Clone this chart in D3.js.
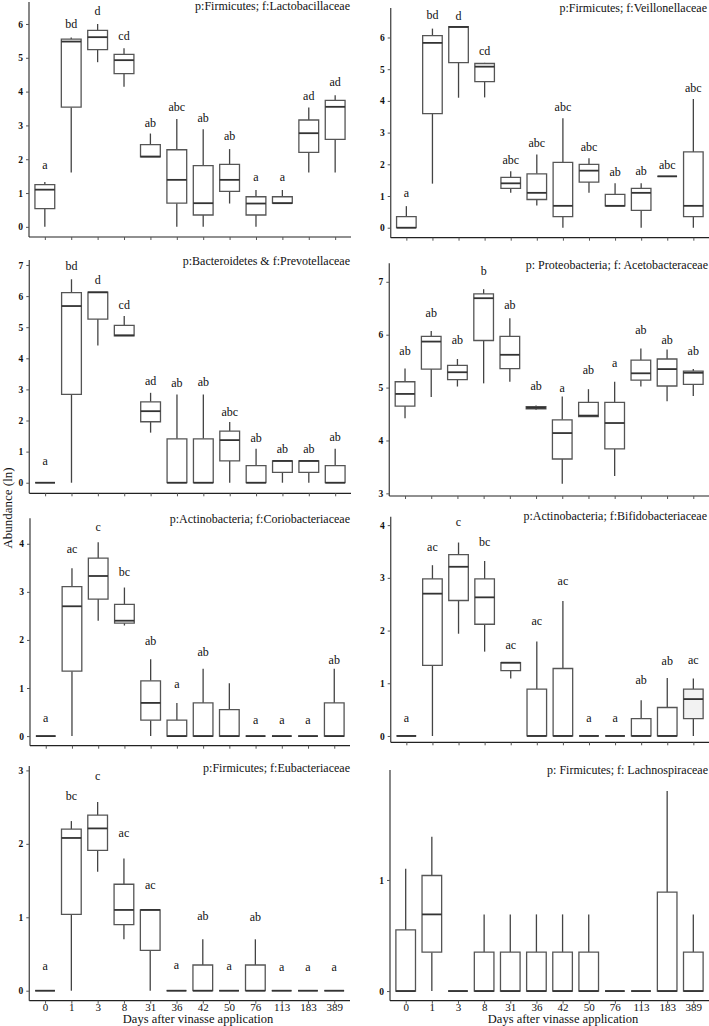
<!DOCTYPE html>
<html><head><meta charset="utf-8">
<script src="https://cdn.jsdelivr.net/npm/d3@7/dist/d3.min.js"></script>
<style>body{margin:0;background:#fff}svg{display:block}text{font-family:"Liberation Serif","Times New Roman",serif;fill:#111}</style>
</head><body>
<script>
// ---- data ----
const days = ["0","1","3","8","31","36","42","50","76","113","183","389"];

// each box: [low whisker, q1, median, q3, high whisker]
const lactoBoxes = [[0,0.54,1.1,1.25,1.33],[1.61,3.54,5.48,5.55,5.6],[4.87,5.24,5.61,5.81,6.0],[4.14,4.53,4.93,5.1,5.28],[2.07,2.07,2.08,2.43,2.76],[0,0.7,1.39,2.28,3.19],[0,0.35,0.7,1.81,2.89],[0.69,1.05,1.39,1.85,2.3],[0,0.35,0.69,0.89,1.09],[0.7,0.7,0.7,0.89,1.09],[1.61,2.2,2.77,3.16,3.53],[1.61,2.59,3.55,3.74,3.89]];
const lactoLetters = ["a","bd","d","cd","ab","abc","ab","ab","a","a","ad","ad"];
const lactoLetterY = [1.83,6.0,6.37,5.65,3.08,3.55,3.2,2.67,1.48,1.46,3.88,4.27];

const veilBoxes = [[0,0,0,0.35,0.68],[1.39,3.6,5.83,6.06,6.28],[4.1,5.21,6.33,6.34,6.34],[4.11,4.61,5.08,5.18,5.2],[1.1,1.24,1.4,1.59,1.78],[0.7,0.89,1.1,1.7,2.31],[0,0.35,0.69,2.06,3.45],[1.1,1.44,1.8,2.0,2.19],[0.69,0.69,0.69,1.05,1.4],[0,0.55,1.1,1.24,1.4],[1.62,1.62,1.62,1.62,1.62],[0,0.35,0.69,2.39,4.06]];
const veilLetters = ["a","bd","d","cd","abc","abc","abc","abc","ab","ab","abc","abc"];
const veilLetterY = [1.08,6.7,6.67,5.57,2.14,2.68,3.79,2.55,1.74,1.77,1.98,4.41];

const prevoBoxes = [[0,0,0,0,0],[0,2.84,5.68,6.11,6.54],[4.41,5.26,6.12,6.13,6.13],[4.72,4.72,4.74,5.06,5.36],[1.61,1.96,2.3,2.6,2.89],[0,0,0,1.41,2.84],[0,0,0,1.41,2.84],[0,0.7,1.37,1.66,1.95],[0,0,0,0.55,1.09],[0,0.33,0.7,0.7,0.7],[0,0.33,0.7,0.7,0.7],[0,0,0,0.55,1.09]];
const prevoLetters = ["a","bd","d","cd","ad","ab","ab","abc","ab","ab","ab","ab"];
const prevoLetterY = [0.7,6.97,6.52,5.71,3.27,3.19,3.22,2.28,1.43,1.08,1.08,1.46];

const acetoBoxes = [[4.42,4.65,4.88,5.11,5.36],[4.82,5.35,5.87,5.97,6.07],[5.02,5.15,5.29,5.42,5.54],[5.08,5.89,6.69,6.77,6.86],[5.11,5.36,5.62,5.97,6.31],[4.58,4.6,4.62,4.64,4.66],[3.18,3.65,4.14,4.39,4.83],[4.45,4.45,4.47,4.72,4.97],[3.33,3.84,4.33,4.72,5.11],[5.02,5.14,5.27,5.52,5.74],[4.74,5.03,5.35,5.54,5.72],[4.84,5.06,5.28,5.31,5.35]];
const acetoLetters = ["ab","ab","ab","b","ab","ab","a","ab","a","ab","ab","ab"];
const acetoLetterY = [5.68,6.4,5.89,7.21,6.56,5.03,4.99,5.32,5.47,6.09,5.9,5.68];

const corioBoxes = [[0,0,0,0,0],[0,1.35,2.7,3.11,3.49],[2.4,2.85,3.33,3.7,4.03],[2.3,2.35,2.4,2.74,3.09],[0,0.33,0.69,1.15,1.6],[0,0,0,0.33,0.69],[0,0,0,0.69,1.4],[0,0,0,0.55,1.1],[0,0,0,0,0],[0,0,0,0,0],[0,0,0,0,0],[0,0,0,0.69,1.4]];
const corioLetters = ["a","ac","c","bc","ab","a","ab","","a","a","a","ab"];
const corioLetterY = [0.37,3.89,4.34,3.41,1.98,1.08,1.74,0,0.33,0.33,0.33,1.58];

const bifidoBoxes = [[0,0,0,0,0],[0,1.34,2.7,2.98,3.24],[1.94,2.57,3.21,3.44,3.67],[1.6,2.12,2.63,2.98,3.32],[1.09,1.24,1.39,1.39,1.39],[0,0,0,0.89,1.79],[0,0,0,1.28,2.56],[0,0,0,0,0],[0,0,0,0,0],[0,0,0,0.33,0.68],[0,0,0,0.54,1.1],[0,0.33,0.7,0.89,1.09]];
const bifidoLetters = ["a","ac","c","bc","ac","ac","ac","a","a","ab","ab","ac"];
const bifidoLetterY = [0.33,3.58,4.05,3.67,1.73,2.17,2.94,0.33,0.33,1.06,1.42,1.44];

const eubacBoxes = [[0,0,0,0,0],[0,1.04,2.08,2.2,2.31],[1.62,1.91,2.21,2.39,2.57],[0.7,0.9,1.1,1.45,1.8],[0,0.55,1.1,1.1,1.1],[0,0,0,0,0],[0,0,0,0.35,0.7],[0,0,0,0,0],[0,0,0,0.35,0.7],[0,0,0,0,0],[0,0,0,0,0],[0,0,0,0,0]];
const eubacLetters = ["a","bc","c","ac","ac","a","ab","a","ab","a","a","a"];
const eubacLetterY = [0.34,2.65,2.92,2.14,1.44,0.35,1.02,0.33,1.0,0.32,0.32,0.32];

const lachnoBoxes = [[0,0,0,0.55,1.1],[0,0.35,0.69,1.04,1.39],[0,0,0,0,0],[0,0,0,0.35,0.69],[0,0,0,0.35,0.69],[0,0,0,0.35,0.69],[0,0,0,0.35,0.69],[0,0,0,0.35,0.69],[0,0,0,0,0],[0,0,0,0,0],[0,0,0,0.89,1.8],[0,0,0,0.35,0.69]];
const lachnoLetters = ["","","","","","","","","","","",""];
const lachnoLetterY = [0,0,0,0,0,0,0,0,0,0,0,0];

const titles = ["p:Firmicutes; f:Lactobacillaceae","p:Firmicutes; f:Veillonellaceae","p:Bacteroidetes & f:Prevotellaceae","p: Proteobacteria; f: Acetobacteraceae","p:Actinobacteria; f:Coriobacteriaceae","p:Actinobacteria; f:Bifidobacteriaceae","p:Firmicutes; f:Eubacteriaceae","p: Firmicutes; f: Lachnospiraceae"];
const yTicks = [[0,1,2,3,4,5,6],[0,1,2,3,4,5,6],[0,1,2,3,4,5,6,7],[3,4,5,6,7],[0,1,2,3,4],[0,1,2,3,4],[0,1,2,3],[0,1]];

// ---- layout ----
const panels = [
 {boxes:lactoBoxes, letters:lactoLetters, ly:lactoLetterY, L:29, R:351, T:2, B:237, dom:[-0.3,6.65], tb:10, tr:350},
 {boxes:veilBoxes, letters:veilLetters, ly:veilLetterY, L:390.7, R:709, T:8, B:237.7, dom:[-0.315,6.93], tb:11.5, tr:707},
 {boxes:prevoBoxes, letters:prevoLetters, ly:prevoLetterY, L:29.3, R:351, T:260, B:493.3, dom:[-0.34,7.16], tb:265, tr:350},
 {boxes:acetoBoxes, letters:acetoLetters, ly:acetoLetterY, L:389.3, R:709, T:263.3, B:496, dom:[2.95,7.35], tb:269, tr:708},
 {boxes:corioBoxes, letters:corioLetters, ly:corioLetterY, L:30, R:350, T:518.3, B:745.7, dom:[-0.2,4.53], tb:523, tr:350},
 {boxes:bifidoBoxes, letters:bifidoLetters, ly:bifidoLetterY, L:390.7, R:709, T:516.7, B:742.3, dom:[-0.12,4.16], tb:520, tr:707, fillLast:true},
 {boxes:eubacBoxes, letters:eubacLetters, ly:eubacLetterY, L:29.3, R:350, T:766, B:1000.7, dom:[-0.136,3.06], tb:772, tr:350, xlab:198},
 {boxes:lachnoBoxes, letters:lachnoLetters, ly:lachnoLetterY, L:390, R:709, T:770, B:1000.7, dom:[-0.087,1.99], tb:774, tr:708, xlab:563}
];

const svg = d3.select("body").append("svg").attr("width",709).attr("height",1026);

panels.forEach((p,i)=>{
  const g = svg.append("g");
  // ggplot-like discrete expansion of 0.6 units each side
  const step = (p.R - p.L) / (days.length + 0.2);
  const x = d3.scalePoint().domain(days).range([p.L + 0.6*step, p.R - 0.6*step]);
  const y = d3.scaleLinear().domain(p.dom).range([p.B, p.T]);
  const bw = step*0.75;

  // axes
  const ya = g.append("g").attr("transform",`translate(${p.L},0)`)
    .call(d3.axisLeft(y).tickValues(yTicks[i]).tickSize(3).tickPadding(3).tickFormat(d3.format("d")));
  ya.select(".domain").attr("d",`M0,${p.T}V${p.B}`).attr("stroke","#555").attr("stroke-width",1.4);
  ya.selectAll(".tick line").attr("stroke","#555");
  ya.selectAll(".tick text").attr("font-size",9.5).attr("fill","#222").attr("font-weight","bold");

  const xa = g.append("g").attr("transform",`translate(0,${p.B})`)
    .call(d3.axisBottom(x).tickSize(3).tickPadding(0).tickFormat(p.xlab ? (d=>d) : ()=>""));
  xa.select(".domain").attr("d",`M${p.L},0H${p.R}`).attr("stroke","#222").attr("stroke-width",1.2);
  xa.selectAll(".tick line").attr("stroke","#555");
  xa.selectAll(".tick text").attr("font-size",11).attr("fill","#111");

  // boxes
  const bx = g.selectAll("g.box").data(p.boxes).join("g").attr("class","box");
  bx.append("line")
    .attr("x1",(d,j)=>x(days[j])).attr("x2",(d,j)=>x(days[j]))
    .attr("y1",d=>y(d[0])).attr("y2",d=>y(d[1]))
    .attr("stroke","#444").attr("stroke-width",1.3);
  bx.append("line")
    .attr("x1",(d,j)=>x(days[j])).attr("x2",(d,j)=>x(days[j]))
    .attr("y1",d=>y(d[3])).attr("y2",d=>y(d[4]))
    .attr("stroke","#444").attr("stroke-width",1.3);
  bx.append("path")
    .attr("d",(d,j)=>{const c=x(days[j]);return `M${c-bw/2},${y(d[3])}H${c+bw/2}V${y(d[1])}H${c-bw/2}Z`;})
    .attr("fill",(d,j)=> (p.fillLast && j===days.length-1) ? "#f2f2f2" : "#fff")
    .attr("stroke","#555").attr("stroke-width",1.3);
  bx.append("line")
    .attr("x1",(d,j)=>x(days[j])-bw/2).attr("x2",(d,j)=>x(days[j])+bw/2)
    .attr("y1",d=>y(d[2])).attr("y2",d=>y(d[2]))
    .attr("stroke","#333").attr("stroke-width",1.8);

  // significance letters
  g.selectAll("text.let").data(p.letters).join("text").attr("class","let")
    .attr("x",(d,j)=>x(days[j])).attr("y",(d,j)=>y(p.ly[j]))
    .attr("dy","0.32em").attr("text-anchor","middle").attr("font-size",12)
    .text(d=>d);

  // title
  g.append("text").attr("x",p.tr).attr("y",p.tb).attr("text-anchor","end")
    .attr("font-size",12).text(titles[i]);

  if (p.xlab) {
    g.append("text").attr("x",p.xlab).attr("y",1022.5).attr("text-anchor","middle")
      .attr("font-size",12.5).text("Days after vinasse application");
  }
});

svg.append("text").attr("transform","translate(12,508) rotate(-90)").attr("text-anchor","middle")
  .attr("font-size",13).text("Abundance (ln)");
</script>
</body></html>
